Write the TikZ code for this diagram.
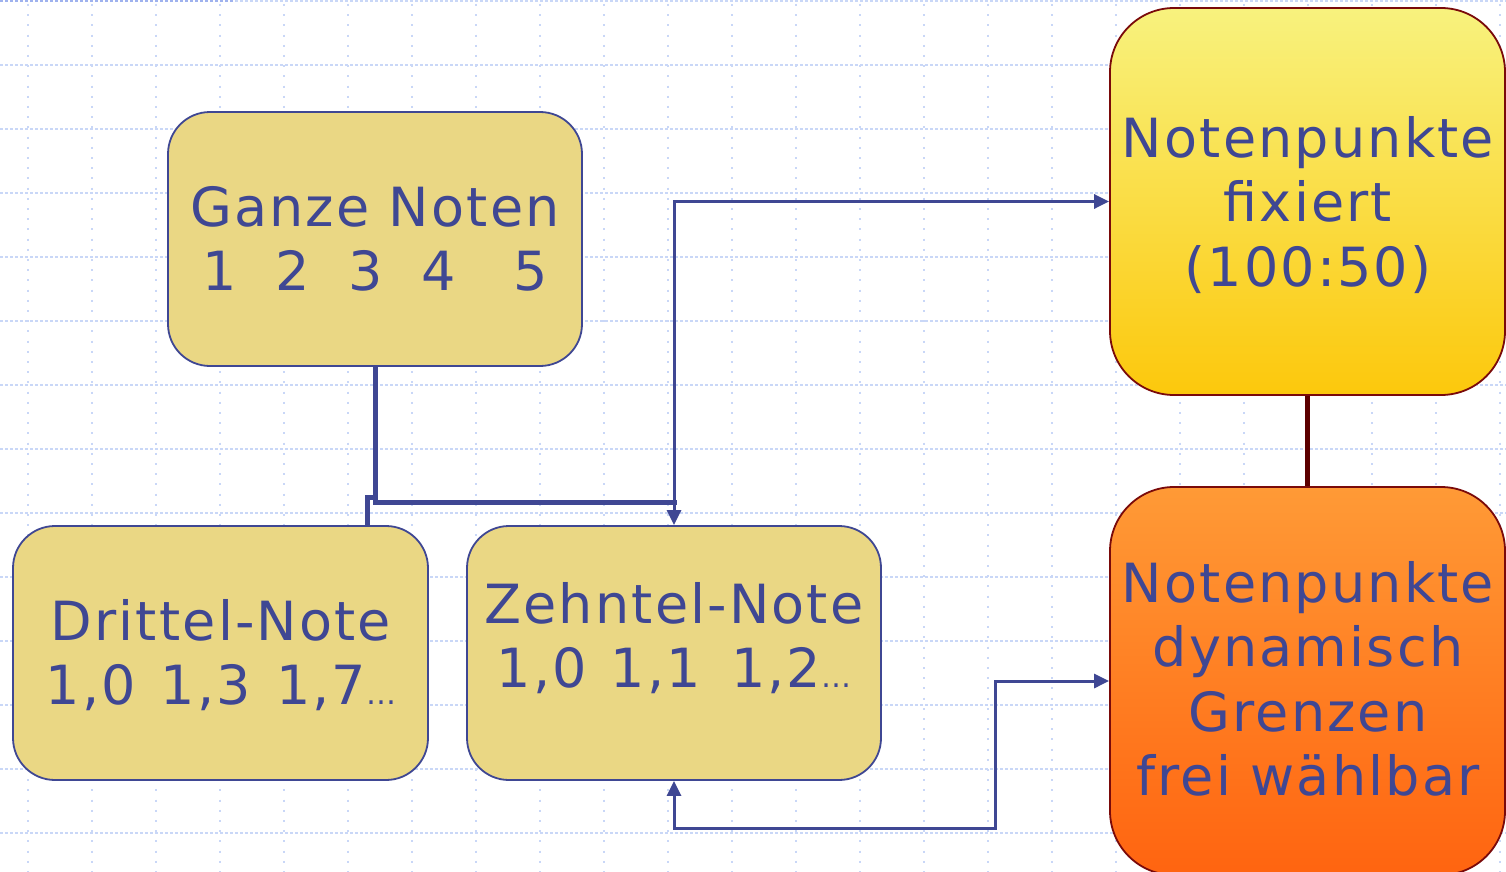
\documentclass[tikz,border=0pt]{standalone}
\usepackage{fontspec}
\setmainfont{DejaVu Sans}[LetterSpace=4]
\usetikzlibrary{arrows.meta}
\definecolor{tan}{HTML}{EAD784}
\definecolor{nblue}{HTML}{3F4793}
\definecolor{dred}{HTML}{7A0A0A}
\definecolor{conred}{HTML}{5C0000}
\definecolor{gridc}{HTML}{C9D7F7}
\definecolor{gridd}{HTML}{9FB2EE}
\definecolor{ytop}{HTML}{F8F27E}
\definecolor{ybot}{HTML}{FCC80C}
\definecolor{otop}{HTML}{FF9A36}
\definecolor{obot}{HTML}{FF6410}
\newcommand{\gapx}[1]{\hspace*{#1pt}}
\newcommand{\smalldots}{{\fontsize{30}{30}\selectfont …}}
\begin{document}
\begin{tikzpicture}[x=1pt,y=-1pt,
  notebox/.style={draw=nblue, line width=1.8pt, fill=tan, rounded corners=42pt,
    minimum width=414pt, minimum height=254pt, inner sep=0pt},
  pointbox/.style={draw=dred, line width=1.8pt, rounded corners=64pt,
    minimum width=395pt, inner sep=0pt},
  txt/.style={text=nblue, align=center, inner sep=0pt, font=\fontsize{54}{64.5}\selectfont},
  thickc/.style={draw=nblue, line width=5pt},
  thinc/.style={draw=nblue, line width=3pt,
    {Triangle[length=15pt,width=14pt]}-{Triangle[length=15pt,width=14pt]}},
  gridh/.style={draw=gridc, line width=2pt, dash pattern=on 3pt off 2pt},
  gridv/.style={draw=gridc, line width=2pt, dash pattern=on 2pt off 8.2pt},
]
\useasboundingbox (0,0) rectangle (1506,872);
\clip (0,0) rectangle (1506,872);
\fill[white] (0,0) rectangle (1506,872);
% grid
\foreach \k in {0,...,23} \draw[gridv] ({28+64*\k},4) -- ({28+64*\k},872);
\foreach \k in {0,...,13} \draw[gridh] (0,{1+64*\k}) -- (1506,{1+64*\k});
\draw[gridh, draw=gridd] (0,1) -- (235,1);
% boxes
\node[notebox] (ganze) at (375,239) {};
\node[notebox, minimum width=415pt] (drittel) at (220.5,653) {};
\node[notebox] (zehntel) at (674,653) {};
\node[pointbox, minimum height=387pt, top color=ytop, bottom color=ybot] (fixiert) at (1307.5,201.5) {};
\node[pointbox, minimum height=388pt, top color=otop, bottom color=obot] (dynamisch) at (1307.5,681) {};
% texts
\node[txt] (tganze) at (375,239) {Ganze Noten\\1~~2~~3~~4~~~5};
\node[txt] (tdrittel) at (221,655) {Drittel-Note\\1,0\gapx{25}1,3\gapx{25}1,7\smalldots};
\node[txt] (tzehntel) at (674,638) {Zehntel-Note\\1,0\gapx{24}1,1\gapx{30}1,2\smalldots};
\node[txt] (tfixiert) at (1308,205) {Notenpunkte\\fixiert\\(100:50)};
\node[txt] (tdynamisch) at (1308,679) {Notenpunkte\\dynamisch\\Grenzen\\frei wählbar};
% connectors
\coordinate (zjoin) at (677,502);
\draw[thickc] (ganze.south) |- (367,497) -- (367,0 |- drittel.north);
\draw[thickc] (ganze.south) |- (zjoin);
\draw[thinc] (zehntel.north) |- (fixiert.west);
\draw[thinc] (zehntel.south) |- (995,828) |- (dynamisch.west);
\draw[draw=conred, line width=5pt] (fixiert.south) -- (dynamisch.north);
\end{tikzpicture}
\end{document}
